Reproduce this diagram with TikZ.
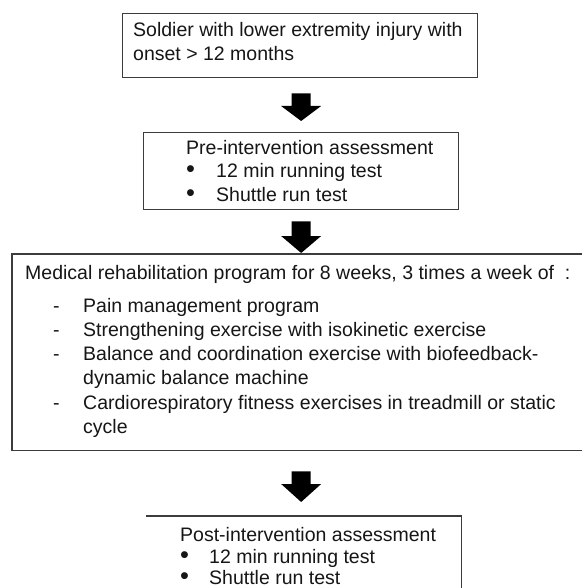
\documentclass[tikz,border=0pt]{standalone}
\usepackage{fontspec}
\setmainfont{Liberation Sans}
\usetikzlibrary{calc}
\definecolor{linegray}{HTML}{3C3C3C}
\definecolor{txt}{HTML}{161616}
\newcommand\blockarrow[3]{%
  \fill[blockfill] let \p1=#1, \p2=#2 in
    (\x2-9.5pt,\y1) -- (\x2+9.5pt,\y1) -- (\x2+9.5pt,\y2+#3) -- (\x2+20pt,\y2+#3)
    -- (\x2,\y2) -- (\x2-20pt,\y2+#3) -- (\x2-9.5pt,\y2+#3) -- cycle;}
\newcommand\bul{\smash{\scalebox{1.3}{•}}}
\begin{document}
\begin{tikzpicture}[x=1pt,y=-1pt,
  boxline/.style={draw=linegray,line width=1.3pt},
  frame/.style={rectangle,inner sep=0pt,anchor=north west},
  txtline/.style={anchor=base west,inner sep=0pt,text=txt,font=\fontsize{19.5}{24}\selectfont},
  blockfill/.style={fill=black}]
\useasboundingbox (0,0) rectangle (582,588);
\fill[white] (0,0) rectangle (582,588);

% boxes
\node[frame,boxline,minimum width=355pt,minimum height=64pt] (b1) at (122,13) {};
\node[frame,boxline,minimum width=315pt,minimum height=77pt] (b2) at (143,132) {};
\node[frame,minimum width=570pt,minimum height=196pt] (b3) at (12,254) {};
\draw[boxline] (b3.north east) -- (b3.north west) -- (b3.south west) -- (b3.south east);
\node[frame,minimum width=315pt,minimum height=72pt] (b4) at (146,516) {};
\draw[boxline] (b4.north west) -- (b4.north east) -- (b4.south east);

% box 1 text
\node[txtline] (t1a) at (133,37) {Soldier with lower extremity injury with};
\node[txtline] (t1b) at (133,61) {onset > 12 months};

% box 2 text
\node[txtline] (t2a) at (186,155) {Pre-intervention assessment};
\node[txtline] (t2b) at (186,178) {\makebox[30pt][l]{\bul}12 min running test};
\node[txtline] (t2c) at (186,201) {\makebox[30pt][l]{\bul}Shuttle run test};

% box 3 text
\node[txtline] (t3a) at (25,279) {Medical rehabilitation program for 8 weeks, 3 times a week of~~:};
\node[txtline] (t3b) at (53,312) {\makebox[30pt][l]{-}Pain management program};
\node[txtline] (t3c) at (53,336.3) {\makebox[30pt][l]{-}Strengthening exercise with isokinetic exercise};
\node[txtline] (t3d) at (53,360.6) {\makebox[30pt][l]{-}Balance and coordination exercise with biofeedback-};
\node[txtline] (t3e) at (83,384.9) {dynamic balance machine};
\node[txtline] (t3f) at (53,409.2) {\makebox[30pt][l]{-}Cardiorespiratory fitness exercises in treadmill or static};
\node[txtline] (t3g) at (83,433.5) {cycle};

% box 4 text
\node[txtline] (t4a) at (180,541) {Post-intervention assessment};
\node[txtline] (t4b) at (180,563) {\makebox[29pt][l]{\bul}12 min running test};
\node[txtline] (t4c) at (180,584.5) {\makebox[29pt][l]{\bul}Shuttle run test};

% block arrows
\blockarrow{($(b1.south)+(0,15)$)}{($(b2.north)+(0,-11)$)}{15pt}
\blockarrow{($(b2.south)+(0,11)$)}{($(b2.south |- b3.north)+(0,-1)$)}{17pt}
\blockarrow{($(b2.south |- b3.south)+(0,21)$)}{($(b2.south |- b4.north)+(0,-14)$)}{18pt}
\end{tikzpicture}
\end{document}
